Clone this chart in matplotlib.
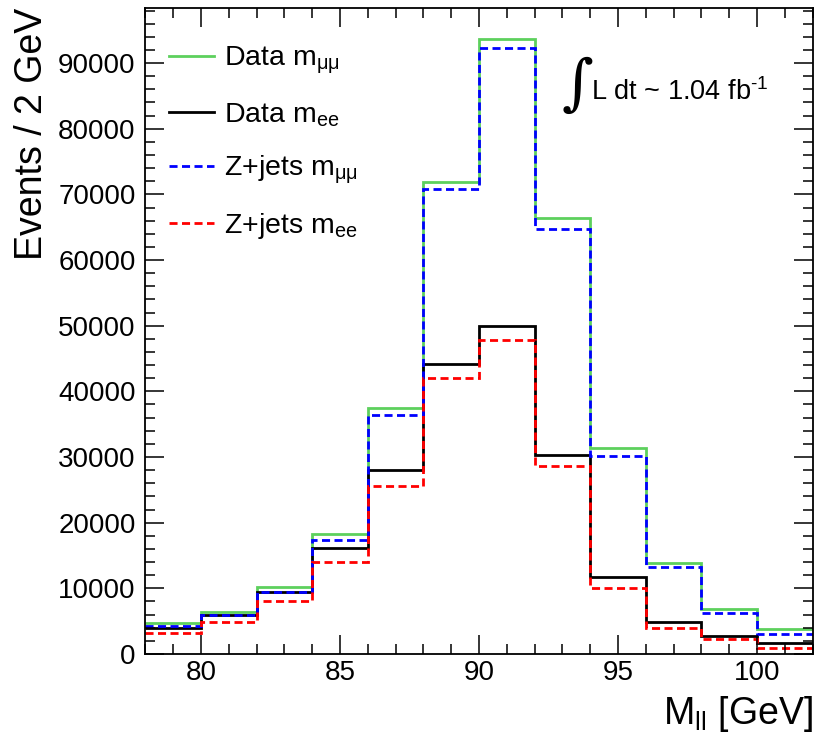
import numpy as np
import matplotlib
matplotlib.use("Agg")
import matplotlib.pyplot as plt

plt.rcParams['font.family'] = ['Liberation Sans', 'DejaVu Sans']
plt.rcParams['mathtext.fontset'] = 'custom'
plt.rcParams['mathtext.rm'] = 'Liberation Sans'
plt.rcParams['mathtext.it'] = 'Liberation Sans:italic'
plt.rcParams['mathtext.bf'] = 'Liberation Sans:bold'

# dilepton mass, 2 GeV bins from 78 to 102
bin_edges = np.arange(78, 104, 2)
data_mumu = [4680, 6450, 10170, 18250, 37500, 71900, 93700, 66410, 31330, 13920, 6810, 3860]
data_ee = [3910, 5900, 9400, 16110, 28000, 44210, 50000, 30290, 11790, 4930, 2740, 1720]
zjets_mumu = [4270, 6000, 9500, 17330, 36430, 70840, 92330, 64740, 30140, 13310, 6200, 3000]
zjets_ee = [3250, 4930, 8080, 14070, 25560, 42030, 47870, 28660, 10010, 3910, 2240, 910]

labels = [r'Data m$_{\mathrm{\mu\mu}}$', r'Data m$_{\mathrm{ee}}$',
          r'Z+jets m$_{\mathrm{\mu\mu}}$', r'Z+jets m$_{\mathrm{ee}}$']

fig = plt.figure(figsize=(8.15, 7.4), dpi=100)
ax = fig.add_axes([145.4 / 815, 86 / 740, 667.2 / 815, 646 / 740])

dash = (0, (2.9, 1.6))
ax.stairs(data_mumu, bin_edges, baseline=None, color='#5dd05d', lw=2.0, label=labels[0])
ax.stairs(data_ee, bin_edges, baseline=None, color='black', lw=2.0, label=labels[1])
ax.stairs(zjets_mumu, bin_edges, baseline=None, color='#0000ff', lw=2.0, ls=dash, label=labels[2])
ax.stairs(zjets_ee, bin_edges, baseline=None, color='#ff0000', lw=2.0, ls=dash, label=labels[3])

ax.set_xlim(78, 102)
ax.set_ylim(0, 1.05 * max(data_mumu))

ax.set_xticks(np.arange(80, 101, 5))
ax.set_xticks(np.arange(78, 103, 1), minor=True)
ax.set_yticks(np.arange(0, 90001, 10000))
ax.set_yticks(np.arange(0, 98001, 2000), minor=True)
ax.tick_params(which='both', direction='in', top=True, right=True, width=1.1)
ax.tick_params(which='major', length=14)
ax.tick_params(which='minor', length=7)
ax.tick_params(axis='x', which='major', labelsize=20, pad=4)
ax.tick_params(axis='y', which='major', labelsize=20, pad=7)
for s in ax.spines.values():
    s.set_linewidth(1.3)

ax.set_xlabel(r'M$_{\mathrm{ll}}$ [GeV]', fontsize=27, loc='right', labelpad=6)
ax.set_ylabel('Events / 2 GeV', fontsize=27, loc='top', labelpad=6)

ax.legend(loc='upper left', bbox_to_anchor=(0.036, 0.943), frameon=False,
          fontsize=20.5, handlelength=1.55, handletextpad=0.35,
          labelspacing=0.88, borderpad=0, borderaxespad=0)

ax.text(0.648, 0.879, '\u222b', transform=ax.transAxes, fontsize=44,
        family='DejaVu Serif', va='center', ha='center')
ax.text(0.668, 0.8576, 'L dt ~ 1.04 fb$^{\\mathrm{\u20101}}$', transform=ax.transAxes,
        fontsize=19.5, va='baseline', ha='left')

fig.savefig('out.png', dpi=100)
